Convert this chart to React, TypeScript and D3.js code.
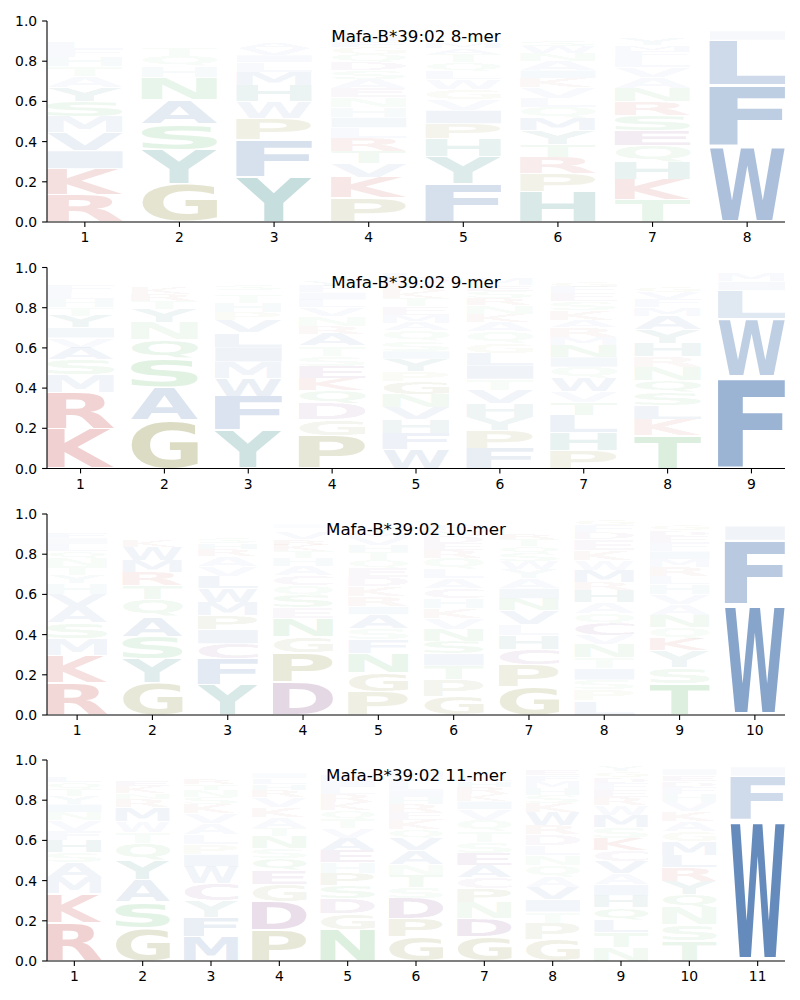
import React, { useMemo } from 'react';
import * as d3 from 'd3';

// ---------- DATA ----------
const titles = ['Mafa-B*39:02 8-mer', 'Mafa-B*39:02 9-mer', 'Mafa-B*39:02 10-mer', 'Mafa-B*39:02 11-mer'];

// each column: letters listed bottom-to-top with their probability
const mer8: string[] = [
  'R.135 K.13 I.09 V.09 M.08 S.075 Y.07 A.055 T.05 H.045 F.04 L.035 Q.025 N.02 E.02 W.015 C.01 G.01 D.005 P.005',
  'G.19 Y.17 S.13 A.12 N.11 H.055 Q.05 T.04 R.025 K.02 M.02 E.015 F.015 D.01 W.01 L.01 V.01',
  'Y.225 F.185 P.105 W.085 H.08 M.065 L.05 I.035 V.035 A.03 S.025 T.02 N.015 Q.015 K.01 C.01 R.005 E.005',
  'P.12 K.10 V.07 T.06 R.065 L.055 I.05 H.05 N.05 E.045 A.045 S.045 D.04 Q.04 G.035 F.03 M.03 Y.025 W.02 C.02',
  'F.19 Y.135 H.09 P.075 I.065 V.055 G.05 W.05 L.04 Q.045 T.04 A.03 M.03 S.025 N.02 K.02 R.015 E.01 D.01 C.01',
  'H.15 P.09 R.08 T.065 Y.07 M.06 Q.055 L.045 V.055 K.045 I.04 A.045 N.04 W.035 S.03 G.025 F.02 D.015 E.015 C.02',
  'T.11 K.10 H.09 Q.08 E.075 S.075 R.07 N.065 A.055 V.05 L.045 F.035 M.03 Y.03 G.025 P.02 D.02 W.015 C.01',
  'W.38 F.30 L.225 I.045 M.02 V.015 Y.01 A.005',
];
const mer9: string[] = [
  'K.195 R.185 M.085 S.075 A.06 V.05 I.05 Y.06 T.04 H.04 L.035 F.03 N.025 Q.02 E.015 G.015 P.01 W.005 D.005',
  'G.24 A.165 S.14 Q.095 N.085 Y.065 T.04 R.035 K.03 H.025 E.02 D.015 M.015 F.01 L.01 P.01',
  'Y.19 F.17 W.09 M.08 I.075 L.07 V.06 P.04 H.045 T.04 A.025 S.03 Q.02 N.02 K.015 R.01 E.01 C.01',
  'P.165 G.08 D.08 Q.065 K.06 E.06 S.05 T.05 A.06 R.04 N.05 V.04 L.04 I.035 F.03 Y.03 M.025 W.02 H.02',
  'W.095 F.08 H.07 V.06 N.065 G.065 P.05 Y.06 I.04 S.05 Q.05 A.04 M.04 E.04 T.04 K.035 R.035 D.03 L.03 C.025',
  'F.10 P.09 Y.065 H.07 V.065 T.055 I.07 L.06 G.05 Q.055 A.05 K.04 N.04 R.035 S.035 E.03 M.03 W.025 D.02 C.015',
  'P.09 H.09 L.085 T.065 V.055 W.065 Q.055 I.05 N.06 M.04 R.05 A.035 K.045 S.045 E.04 F.03 G.03 D.025 Y.025 C.02',
  'T.165 K.08 L.07 S.065 Q.06 N.065 R.055 H.065 Y.065 A.07 M.04 F.04 V.035 G.03 D.025 P.025 E.025 W.02',
  'F.455 W.29 L.14 I.045 M.04 Y.015 V.015',
];
const mer10: string[] = [
  'R.16 K.135 M.085 S.08 A.08 V.06 H.055 Y.04 T.045 N.04 Q.035 L.035 I.03 F.03 E.025 G.02 P.02 D.015 W.01',
  'G.16 Y.12 S.11 A.10 Q.085 T.07 R.065 M.06 W.065 K.03 H.025 N.025 E.02 F.02 L.025 V.02',
  'Y.15 F.13 C.075 I.07 P.07 M.065 W.07 L.06 V.05 A.05 R.035 H.03 S.03 T.025 K.025 N.02 E.02 G.015 D.01',
  'D.165 P.145 G.08 N.09 E.055 S.06 Q.05 C.05 A.045 H.04 T.035 K.03 R.03 V.03 L.025 I.02 M.02 F.015 Y.015',
  'P.115 G.095 N.095 F.07 S.055 A.07 I.04 R.05 K.05 D.045 E.045 Q.04 T.04 H.035 V.035 M.03 Y.03 W.025 C.02 L.015',
  'G.09 P.085 T.07 I.06 S.06 N.06 V.055 K.05 H.05 C.05 A.05 L.045 Q.055 R.04 E.035 D.035 M.03 F.03 W.025 Y.025',
  'G.14 P.11 C.075 H.07 L.055 V.07 N.06 I.05 A.05 Y.045 W.04 S.04 Q.035 T.035 R.03 E.025 F.02 K.02 D.015 M.015',
  'L.07 P.055 S.05 I.055 T.055 N.065 V.045 C.06 Q.05 A.055 H.06 R.04 M.06 W.05 K.05 E.055 D.035 F.035 G.03 Y.025',
  'T.155 S.08 Y.085 K.06 Q.055 N.06 A.055 V.05 H.05 L.04 R.045 M.04 I.04 F.04 E.035 D.03 G.03 P.025 W.015 C.01',
  'W.55 F.32 I.07 L.025 M.02 Y.015',
];
const mer11: string[] = [
  'R.19 K.145 M.08 A.075 S.05 H.06 F.045 V.055 N.04 I.04 Y.04 T.035 Q.035 L.03 E.025 G.02 P.02 D.015',
  'G.165 S.13 A.11 Y.095 Q.085 T.055 W.055 M.07 R.04 N.03 K.035 E.03 H.025 F.025 L.02 D.015 P.015',
  'M.12 F.095 Y.085 C.085 W.085 I.06 P.05 L.05 A.055 V.05 K.045 S.035 N.035 T.03 R.03 E.025 H.025 Q.02 G.01 D.01',
  'P.155 D.14 G.085 E.07 Q.06 S.05 N.06 T.04 A.055 K.05 V.05 R.035 H.03 L.03 I.025 F.025 M.02 Y.02',
  'N.155 G.08 D.075 S.065 P.06 H.055 E.06 A.06 V.05 T.045 Q.045 K.04 R.04 L.035 I.035 M.03 F.025 Y.025 W.015 C.005',
  'G.12 P.09 D.10 S.055 T.06 N.055 A.07 V.06 Q.045 K.045 E.04 R.04 H.035 I.035 L.035 F.03 M.03 Y.025 W.015 C.015',
  'G.12 D.09 N.08 P.07 C.055 A.06 E.06 S.055 T.055 Q.055 V.055 I.04 K.035 R.035 H.03 L.03 M.025 F.025 Y.015 W.01',
  'G.105 P.085 T.055 I.06 V.06 A.055 Q.055 N.05 L.05 D.055 R.045 W.065 K.045 S.04 H.035 M.035 F.03 E.03 Y.025 C.02',
  'N.07 T.075 L.06 Q.06 H.06 I.055 A.055 V.06 C.055 K.06 S.055 M.06 W.05 R.04 E.035 F.035 D.03 G.03 Y.03 P.025',
  'T.10 S.08 N.085 Q.065 Y.065 R.07 L.06 M.07 G.05 A.05 K.05 V.045 H.04 F.035 D.03 E.03 I.03 P.025 W.02',
  'W.70 F.22 I.045 L.015 Y.01 M.01',
];

const panels = [mer8, mer9, mer10, mer11];
const yTicks = [0, 0.2, 0.4, 0.6, 0.8, 1.0];

const groupColors: Record<string, string> = {
  blue: 'rgb(36,90,160)',
  teal: 'rgb(0,107,102)',
  olive: 'rgb(110,110,10)',
  green: 'rgb(40,160,60)',
  purple: 'rgb(100,20,100)',
  red: 'rgb(180,15,15)',
};
const letterGroup: Record<string, string> = {
  A: 'blue', F: 'blue', I: 'blue', L: 'blue', M: 'blue', V: 'blue', W: 'blue',
  H: 'teal', Y: 'teal',
  G: 'olive', P: 'olive',
  N: 'green', Q: 'green', S: 'green', T: 'green',
  D: 'purple', E: 'purple', C: 'purple',
  K: 'red', R: 'red',
};

// ---------- LAYOUT ----------
const W = 800, H = 1000;
const plotLeft = 47, plotRight = 785;
const panelTops = [21, 267.5, 514, 760];
const panelH = 201;
const letterWidth = 0.8;
const vpad = 0.055;
const FONT = '"DejaVu Sans", sans-serif';

function parseCol(s: string): [string, number][] {
  return s.trim().split(/\s+/).map((t) => [t[0], parseFloat(t.slice(1))] as [string, number]);
}

type GM = { L: number; R: number; A: number; D: number };
function useGlyphMetrics(): Record<string, GM> {
  return useMemo(() => {
    const c = document.createElement('canvas');
    const ctx = c.getContext('2d')!;
    ctx.font = `bold 100px ${FONT}`;
    const out: Record<string, GM> = {};
    'ACDEFGHIKLMNPQRSTVWY'.split('').forEach((ch) => {
      const m = ctx.measureText(ch);
      out[ch] = {
        L: m.actualBoundingBoxLeft,
        R: m.actualBoundingBoxRight,
        A: m.actualBoundingBoxAscent,
        D: m.actualBoundingBoxDescent,
      };
    });
    return out;
  }, []);
}

function Panel({ cols, top, title, gm }: { cols: string[]; top: number; title: string; gm: Record<string, GM> }) {
  const n = cols.length;
  const x = d3.scaleLinear().domain([0.6, n + 0.4]).range([plotLeft, plotRight]);
  const y = d3.scaleLinear().domain([0, 1]).range([top + panelH, top]);
  const bottom = top + panelH;
  const glyphs: React.ReactNode[] = [];
  cols.forEach((col, i) => {
    const pos = i + 1;
    let floor = 0;
    parseCol(col).forEach(([ch, v], j) => {
      const ceil = floor + v;
      const g = gm[ch];
      const x0 = x(pos - letterWidth / 2);
      const x1 = x(pos + letterWidth / 2);
      const yTop = y(ceil - (vpad / 2) * v);
      const yBot = y(floor + (vpad / 2) * v);
      floor = ceil;
      if (!g) return;
      const gw = g.L + g.R;
      const gh = g.A + g.D;
      const sx = (x1 - x0) / gw;
      const sy = (yBot - yTop) / gh;
      glyphs.push(
        <text
          key={`${i}-${j}`}
          transform={`translate(${x0},${yTop}) scale(${sx},${sy}) translate(${g.L},${g.A})`}
          fontFamily={FONT}
          fontWeight="bold"
          fontSize={100}
          fill={groupColors[letterGroup[ch]]}
          fillOpacity={v}
        >
          {ch}
        </text>
      );
    });
  });
  const tickLen = 4.9;
  return (
    <g>
      {glyphs}
      <text x={(plotLeft + plotRight) / 2} y={top + 20.7} textAnchor="middle" fontFamily={FONT} fontSize={16.7} fill="#000">
        {title}
      </text>
      <line x1={plotLeft} x2={plotLeft} y1={top} y2={bottom} stroke="#000" strokeWidth={1.1} />
      <line x1={plotLeft} x2={plotRight} y1={bottom} y2={bottom} stroke="#000" strokeWidth={1.1} />
      {yTicks.map((t) => (
        <g key={t}>
          <line x1={plotLeft - tickLen} x2={plotLeft} y1={y(t)} y2={y(t)} stroke="#000" strokeWidth={1.1} />
          <text x={plotLeft - tickLen - 4.9} y={y(t) + 5} textAnchor="end" fontFamily={FONT} fontSize={13.9} fill="#000">
            {t.toFixed(1)}
          </text>
        </g>
      ))}
      {d3.range(1, n + 1).map((p) => (
        <g key={p}>
          <line x1={x(p)} x2={x(p)} y1={bottom} y2={bottom + tickLen} stroke="#000" strokeWidth={1.1} />
          <text x={x(p)} y={bottom + tickLen + 4.9 + 10.6} textAnchor="middle" fontFamily={FONT} fontSize={13.9} fill="#000">
            {p}
          </text>
        </g>
      ))}
    </g>
  );
}

export default function App() {
  const gm = useGlyphMetrics();
  return (
    <svg width={W} height={H} style={{ position: 'absolute', left: 0, top: 0, background: '#fff' }}>
      <rect x={0} y={0} width={W} height={H} fill="#fff" />
      {panels.map((cols, k) => (
        <Panel key={k} cols={cols} top={panelTops[k]} title={titles[k]} gm={gm} />
      ))}
    </svg>
  );
}
